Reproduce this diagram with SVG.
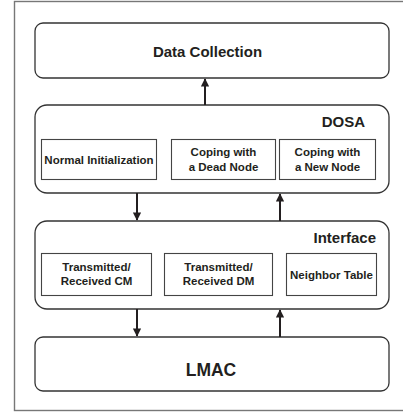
<svg xmlns="http://www.w3.org/2000/svg" width="403" height="414" viewBox="0 0 403 414">
<style>
.frame{fill:none;stroke:#777;stroke-width:1.4}
.layer{fill:#fff;stroke:#333;stroke-width:1.3}
.sub{fill:#fff;stroke:#444;stroke-width:1.1}
text{font-family:"Liberation Sans",Arial,sans-serif;font-weight:bold;fill:#231f20}
.big{font-size:15px}
.huge{font-size:17.5px}
.sm{font-size:11.5px}
.conn{stroke:#231f20;stroke-width:2;fill:none}
</style>
<defs>
<marker id="ah" viewBox="0 0 10 10" refX="9" refY="5" markerWidth="4.2" markerHeight="4.2" orient="auto" markerUnits="strokeWidth">
<path d="M0,0 L10,5 L0,10 z" fill="#231f20"/>
</marker>
</defs>
<rect class="frame" x="14.5" y="1.5" width="395" height="409"/>
<g id="data-collection">
<rect class="layer" x="35" y="23" width="354" height="55" rx="8"/>
<text class="big" x="207.5" y="57" text-anchor="middle">Data Collection</text>
</g>
<g id="dosa">
<rect class="layer" x="35" y="105" width="354" height="88" rx="12"/>
<text class="big" x="365" y="127" text-anchor="end">DOSA</text>
</g>
<g id="normal-init">
<rect class="sub" x="41.5" y="139.5" width="115" height="40"/>
<text class="sm" x="99" y="164" text-anchor="middle">Normal Initialization</text>
</g>
<g id="dead-node">
<rect class="sub" x="171.5" y="139.5" width="104" height="40"/>
<text class="sm" x="223.5" y="156" text-anchor="middle">Coping with</text>
<text class="sm" x="223.5" y="170.5" text-anchor="middle">a Dead Node</text>
</g>
<g id="new-node">
<rect class="sub" x="279.5" y="139.5" width="96" height="40"/>
<text class="sm" x="327.5" y="156" text-anchor="middle">Coping with</text>
<text class="sm" x="327.5" y="170.5" text-anchor="middle">a New Node</text>
</g>
<g id="interface">
<rect class="layer" x="35" y="221" width="354" height="88" rx="12"/>
<text class="big" x="376" y="243" text-anchor="end">Interface</text>
</g>
<g id="cm">
<rect class="sub" x="41.5" y="253.5" width="110" height="42"/>
<text class="sm" x="96.5" y="270.5" text-anchor="middle">Transmitted/</text>
<text class="sm" x="96.5" y="285" text-anchor="middle">Received CM</text>
</g>
<g id="dm">
<rect class="sub" x="164.5" y="253.5" width="108" height="42"/>
<text class="sm" x="218.5" y="270.5" text-anchor="middle">Transmitted/</text>
<text class="sm" x="218.5" y="285" text-anchor="middle">Received DM</text>
</g>
<g id="neighbor">
<rect class="sub" x="286.5" y="253.5" width="90" height="42"/>
<text class="sm" x="331.5" y="279" text-anchor="middle">Neighbor Table</text>
</g>
<g id="lmac">
<rect class="layer" x="35" y="337" width="354" height="54" rx="8"/>
<text class="huge" x="211" y="376" text-anchor="middle">LMAC</text>
</g>
<g id="connectors">
<line class="conn" x1="205" y1="105" x2="205" y2="79" marker-end="url(#ah)"/>
<line class="conn" x1="137" y1="193" x2="137" y2="220" marker-end="url(#ah)"/>
<line class="conn" x1="280" y1="221" x2="280" y2="194" marker-end="url(#ah)"/>
<line class="conn" x1="137" y1="309" x2="137" y2="336" marker-end="url(#ah)"/>
<line class="conn" x1="280" y1="337" x2="280" y2="310" marker-end="url(#ah)"/>
</g>
</svg>
